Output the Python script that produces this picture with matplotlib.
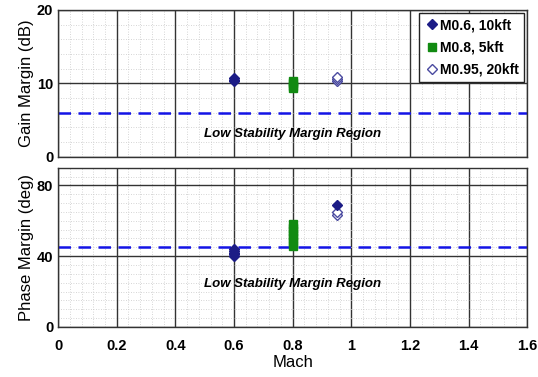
import numpy as np
import matplotlib.pyplot as plt
from matplotlib.ticker import MultipleLocator, FormatStrFormatter

# stability margins at each flight condition (several loops per condition)
mach_06 = [0.6, 0.6, 0.6]
gm_06 = [10.3, 10.5, 10.7]
mach_06_pm = [0.6, 0.6, 0.6, 0.6, 0.6]
pm_06 = [40, 41, 42, 43, 44]

mach_08 = [0.8, 0.8, 0.8, 0.8]
gm_08 = [9.4, 9.7, 10.0, 10.3]
mach_08_pm = [0.8, 0.8, 0.8, 0.8, 0.8, 0.8, 0.8]
pm_08 = [46, 48, 50, 52, 54, 56, 58]

mach_095 = [0.95, 0.95, 0.95]
gm_095 = [10.3, 10.6, 10.9]
mach_095_pm = [0.95, 0.95, 0.95]
pm_095 = [63, 65, 69]

gm_req = 6
pm_req = 45

navy = "#1c1c86"
green = "#118a11"
dash_blue = "#1414e6"

fig = plt.figure(figsize=(5.38, 3.77), dpi=100)
ax1 = fig.add_axes([0.108, 0.584, 0.872, 0.390])
ax2 = fig.add_axes([0.108, 0.133, 0.872, 0.422])

for ax in (ax1, ax2):
    ax.set_xlim(0, 1.6)
    ax.xaxis.set_major_locator(MultipleLocator(0.2))
    ax.xaxis.set_minor_locator(MultipleLocator(0.04))
    ax.xaxis.set_major_formatter(FormatStrFormatter("%g"))
    ax.grid(which="major", color="#333333", linewidth=1.0)
    ax.grid(which="minor", color="#c8c8c8", linewidth=0.6, linestyle=(0, (1, 2)))
    ax.set_axisbelow(True)
    ax.tick_params(which="both", length=0, labelsize=10.5)
    for s in ax.spines.values():
        s.set_color("#333333")
        s.set_linewidth(1.0)

# gain margin
ax1.set_ylim(0, 20)
ax1.yaxis.set_major_locator(MultipleLocator(10))
ax1.yaxis.set_minor_locator(MultipleLocator(2))
ax1.set_xticklabels([])
ax1.axhline(gm_req, color=dash_blue, linestyle=(0, (5, 3)), linewidth=1.8)
ax1.plot(mach_06, gm_06, "D", color=navy, ms=5, label="M0.6, 10kft")
ax1.plot(mach_08, gm_08, "s", color=green, ms=6, label="M0.8, 5kft")
ax1.plot(mach_095, gm_095, "D", mfc="white", mec="#4a4aa0", mew=1.0, ms=5,
         label="M0.95, 20kft")
ax1.text(0.8, 3.1, "Low Stability Margin Region", ha="center", va="center",
         fontsize=9.5, fontstyle="italic", fontweight="bold", family="Liberation Sans")
ax1.set_ylabel("Gain Margin (dB)", fontsize=12, family="Liberation Sans", labelpad=2)
leg = ax1.legend(loc="upper right", handletextpad=0.1, handlelength=1.0,
                 borderpad=0.4, labelspacing=0.6, fancybox=False, framealpha=1,
                 borderaxespad=0.2, prop={"family": "Liberation Sans", "weight": "bold", "size": 10})
leg.get_frame().set_edgecolor("#222222")
leg.get_frame().set_linewidth(1.0)

# phase margin
ax2.set_ylim(0, 90)
ax2.yaxis.set_major_locator(MultipleLocator(40))
ax2.yaxis.set_minor_locator(MultipleLocator(5))
ax2.axhline(pm_req, color=dash_blue, linestyle=(0, (5, 3)), linewidth=1.8)
ax2.plot(mach_06_pm, pm_06, "D", color=navy, ms=5)
ax2.plot(mach_08_pm, pm_08, "s", color=green, ms=6)
ax2.plot(mach_095_pm[:2], pm_095[:2], "D", mfc="white", mec="#4a4aa0", mew=1.0, ms=5)
ax2.plot(mach_095_pm[2:], pm_095[2:], "D", color=navy, ms=5)
ax2.text(0.8, 24.5, "Low Stability Margin Region", ha="center", va="center",
         fontsize=9.5, fontstyle="italic", fontweight="bold", family="Liberation Sans")
ax2.set_ylabel("Phase Margin (deg)", fontsize=12, family="Liberation Sans", labelpad=2)
ax2.set_xlabel("Mach", fontsize=12, family="Liberation Sans", labelpad=1)
ax2.tick_params(axis="x", pad=9)

for ax in (ax1, ax2):
    for lbl in ax.get_yticklabels() + ax.get_xticklabels():
        lbl.set_fontweight("bold")
        lbl.set_family(["Liberation Sans Narrow", "Liberation Sans"])

fig.savefig("out.png", dpi=100)
